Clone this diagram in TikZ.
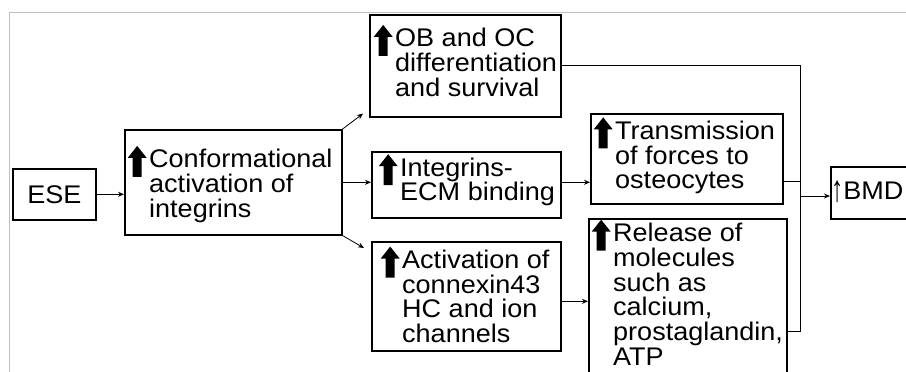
\documentclass[tikz,border=0pt]{standalone}
\usepackage{fontspec}
\setmainfont{Liberation Sans}[FakeStretch=1.06]
\usetikzlibrary{arrows.meta,calc}
\newcommand{\bigup}{\smash{\tikz[baseline=0pt,x=1pt,y=1pt]\fill[black] (5,-9) -- (14,-9) -- (14,10) -- (19,10) -- (9.5,22) -- (0,10) -- (5,10) -- cycle;}}
\newcommand{\hang}{\llap{\bigup\hspace{2.5pt}}}
\begin{document}
\begin{tikzpicture}[x=1pt,y=-1pt,
  box/.style={draw, line width=1.6pt, inner sep=0pt, anchor=north west},
  txt/.style={align=left, inner sep=0pt, font=\fontsize{25.5}{24.7}\selectfont},
  conn/.style={line width=0.8pt, -{Stealth[length=6pt,width=5pt]}},
  wire/.style={line width=0.8pt}]
\useasboundingbox (0,0) rectangle (906,372);
\fill[white] (0,0) rectangle (906,372);
\draw[black!25, line width=0.8pt] (9.5,372) -- (9.5,12) -- (906,12);

% boxes
\node[box, minimum width=83pt, minimum height=51pt, font=\fontsize{25.5}{24.7}\selectfont] (ese) at (12,168) {ESE};
\node[box, minimum width=217pt, minimum height=105pt] (conf) at (124,129) {};
\node[box, minimum width=191pt, minimum height=102pt] (ob) at (369,14) {};
\node[box, minimum width=189pt, minimum height=66pt] (integ) at (371,151) {};
\node[box, minimum width=189pt, minimum height=109pt] (activ) at (371,241) {};
\node[box, minimum width=192pt, minimum height=90pt] (trans) at (590,113) {};
\node[box, minimum width=198pt, minimum height=170pt] (rel) at (588,218) {};
\node[box, minimum width=90pt, minimum height=52pt] (bmd) at (830,166) {};

% texts
\node[txt, anchor=west] (conft) at (149,186) {\hang Conformational\\activation of\\integrins};
\node[txt, anchor=west] (obt) at (395,62.5) {\hang OB and OC\\differentiation\\and survival};
\node[txt, anchor=west] (integt) at (400,182) {\hang Integrins-\\ECM binding};
\node[txt, anchor=west] (activt) at (402,296.5) {\hang Activation of\\connexin43\\HC and ion\\channels};
\node[txt, anchor=west] (transt) at (615,157.5) {\hang Transmission\\of forces to\\osteocytes};
\node[txt, anchor=north west] (relt) at (613,223) {\hang Release of\\molecules\\such as\\calcium,\\prostaglandin,\\ATP};
\node[txt, anchor=west] (bmdt) at (831,192) {\raisebox{-2.5pt}{\scalebox{0.9}[1.45]{↑}}BMD};

% connectors
\draw[conn] (ese.east) -- (ese.east -| conf.west);
\draw[conn] (conf.north east) -- ($(ob.south west)+(-6,-4)$);
\draw[conn] (conf.east) -- (conf.east -| integ.west);
\draw[conn] (conf.south east) -- ($(activ.north west)+(-7,7)$);
\draw[conn] (integ.east |- conf.east) -- (conf.east -| trans.west);
\coordinate (aout) at ($(activ.east)+(0,5)$);
\draw[conn] (aout) -- (aout -| rel.west);

\coordinate (bus) at (800,196);
\coordinate (tout) at ($(trans.east)+(0,23)$);
\coordinate (rout) at ($(rel.north east)+(0,113)$);
\draw[wire] (ob.east) -| (rout -| bus) -- (rout);
\draw[wire] (tout) -- (tout -| bus);
\draw[conn] (bus) -- (bus -| bmd.west);
\end{tikzpicture}
\end{document}
